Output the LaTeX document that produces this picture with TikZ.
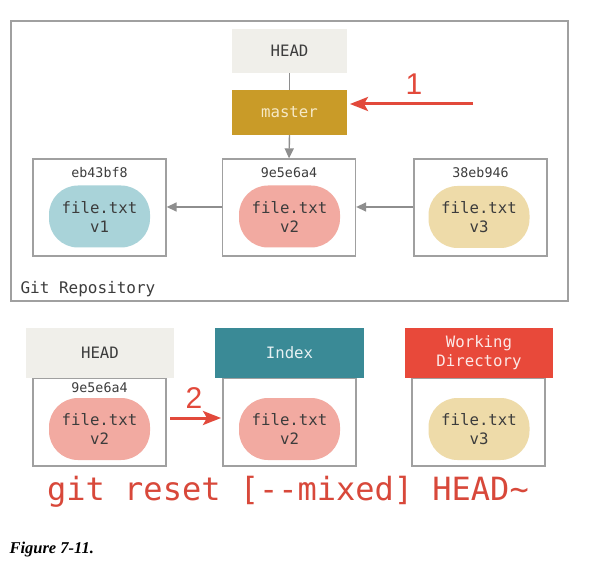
\documentclass[tikz,border=0pt]{standalone}
\usepackage{fontspec}
\setmonofont{DejaVu Sans Mono}
\newfontfamily\capfont{Liberation Serif}
\newfontfamily\numfont{Liberation Sans}
\usetikzlibrary{arrows.meta}
\definecolor{framegray}{HTML}{A0A0A0}
\definecolor{headgray}{HTML}{F0EFEA}
\definecolor{mastergold}{HTML}{C99B28}
\definecolor{mastertext}{HTML}{F6E9C6}
\definecolor{blueblob}{HTML}{A9D3D9}
\definecolor{pinkblob}{HTML}{F2AAA1}
\definecolor{yellowblob}{HTML}{EEDBA9}
\definecolor{indexteal}{HTML}{3A8A96}
\definecolor{wdred}{HTML}{E8493A}
\definecolor{arrowred}{HTML}{E2493B}
\definecolor{cmdred}{HTML}{D8483A}
\definecolor{textgray}{HTML}{3C3C3C}
\definecolor{linegray}{HTML}{8E8E8E}
\begin{document}
\begin{tikzpicture}[x=1pt,y=-1pt,
  mono/.style={font=\ttfamily\fontsize{15.7}{19}\selectfont},
  frame/.style={draw=framegray, line width=1.3pt, fill=white, inner sep=0pt},
  commitbox/.style={frame, minimum width=133pt, minimum height=97pt},
  stagebox/.style={frame, minimum width=133pt, minimum height=88pt},
  header/.style={inner sep=0pt, minimum width=148pt, minimum height=50pt, mono, align=center},
  blob/.style={rounded corners=29pt, minimum width=101pt, minimum height=62pt, inner sep=0pt, mono, align=center, text=textgray},
  hashlabel/.style={font=\ttfamily\fontsize{13.3}{16}\selectfont, text=textgray},
  grayarrow/.style={draw=linegray, line width=1.4pt, -{Triangle[length=10pt,width=9pt]}},
  redarrow/.style={draw=arrowred, line width=3pt, -{Stealth[length=18pt,width=14pt,inset=4pt]}},
  stepnum/.style={font=\numfont\fontsize{30}{30}\selectfont, text=arrowred}
]
\useasboundingbox[fill=white] (0,0) rectangle (595,572);

% ---------- top: repository ----------
\node[frame, minimum width=557pt, minimum height=280pt] (repo) at (289.5,161) {};
\node[anchor=west, font=\ttfamily\fontsize{16}{19}\selectfont, text=textgray] (repolabel) at (17,289) {Git Repository};

\node[fill=headgray, inner sep=0pt, minimum width=115pt, minimum height=44pt, mono, text=textgray] (headtop) at (289.5,51) {HEAD};
\node[fill=mastergold, inner sep=0pt, minimum width=115pt, minimum height=45pt, mono, text=mastertext] (master) at (289.5,112.5) {master};

\node[commitbox] (c1) at (99.5,207.5) {};
\node[commitbox] (c2) at (289,207.5) {};
\node[commitbox] (c3) at (480.5,207.5) {};

\node[hashlabel] (h1) at (99.5,173) {eb43bf8};
\node[hashlabel] (h2) at (289,173) {9e5e6a4};
\node[hashlabel] (h3) at (480.5,173) {38eb946};

\node[blob, fill=blueblob] (b1) at (99.5,216.5) {file.txt\\v1};
\node[blob, fill=pinkblob] (b2) at (289.5,216.5) {file.txt\\v2};
\node[blob, fill=yellowblob] (b3) at (479,217) {file.txt\\v3};

\draw[draw=linegray, line width=1.4pt] (headtop.south) -- (master.north);
\draw[grayarrow] (master.south) -- (c2.north);
\draw[grayarrow] (c2.west |- 0,207) -- (c1.east |- 0,207);
\draw[grayarrow] (c3.west |- 0,207) -- (c2.east |- 0,207);

\coordinate (r1start) at (473,104);
\coordinate (r1end) at (350,104);
\draw[redarrow] (r1start) -- (r1end);
\node[stepnum] (n1) at (414,84) {1};

% ---------- bottom: three trees ----------
\node[stagebox] (s1) at (99.5,422) {};
\node[stagebox] (s2) at (289.5,422) {};
\node[stagebox] (s3) at (478.5,422) {};

\node[header, fill=headgray, text=textgray] (hh) at (100,353) {HEAD};
\node[header, fill=indexteal, text=white!88!indexteal, minimum width=149pt] (hi) at (289.5,353) {Index};
\node[header, fill=wdred, text=white!88!wdred] (hw) at (479,353) {Working\\Directory};

\node[hashlabel] (h4) at (99.5,388) {9e5e6a4};
\node[blob, fill=pinkblob] (b4) at (99.5,429) {file.txt\\v2};
\node[blob, fill=pinkblob] (b5) at (289.5,429) {file.txt\\v2};
\node[blob, fill=yellowblob] (b6) at (479,429) {file.txt\\v3};

\coordinate (r2start) at (170,418);
\coordinate (r2end) at (221,418);
\draw[redarrow] (r2start) -- (r2end);
\node[stepnum] (n2) at (194,398) {2};

\node[font=\ttfamily\fontsize{32}{32}\selectfont, text=cmdred] (cmd) at (288,492) {git reset [--mixed] HEAD\char`~};

\node[anchor=west, font=\capfont\bfseries\itshape\fontsize{16.5}{20}\selectfont] (cap) at (6,550) {Figure 7-11.};
\end{tikzpicture}
\end{document}
